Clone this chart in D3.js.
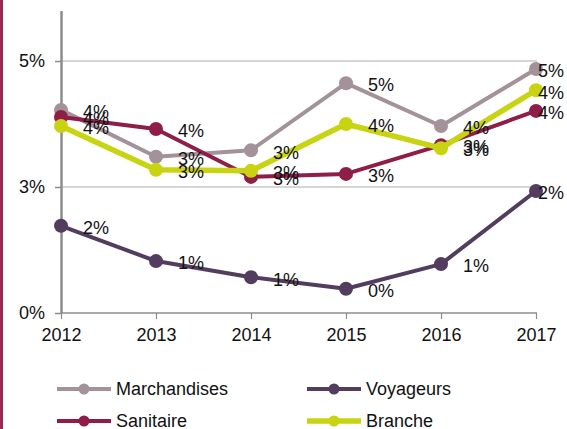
<!DOCTYPE html>
<html>
<head>
<meta charset="utf-8">
<script src="https://cdn.jsdelivr.net/npm/d3@7"></script>
<style>
  body { margin: 0; background: #fff; }
  text { font-family: "Liberation Sans", Arial, sans-serif; }
</style>
</head>
<body>
<div id="chart"></div>
<script>
// data
var years = ["2012", "2013", "2014", "2015", "2016", "2017"];
var marchandises = [0.0403, 0.0310, 0.0323, 0.0456, 0.0371, 0.0484];
var voyageurs    = [0.0173, 0.0103, 0.0071, 0.0048, 0.0097, 0.0242];
var sanitaire    = [0.0389, 0.0365, 0.0270, 0.0276, 0.0333, 0.0401];
var branche      = [0.0371, 0.0284, 0.0282, 0.0375, 0.0327, 0.0442];
var yTicks = [0, 0.025, 0.05];
var yTickLabels = ["0%", "3%", "5%"];

var series = [
  {name: "Marchandises", values: marchandises, color: "#a3929a", w: 4},
  {name: "Voyageurs", values: voyageurs, color: "#533d5e", w: 4},
  {name: "Sanitaire", values: sanitaire, color: "#8e1d47", w: 4},
  {name: "Branche", values: branche, color: "#c8d312", w: 5.5}
];

var W = 567, H = 429;
var svg = d3.select("#chart").append("svg").attr("width", W).attr("height", H);

// crimson page border on the left
svg.append("rect").attr("x", 0).attr("y", 0).attr("width", 3).attr("height", H).attr("fill", "#9b2a50");

var x = d3.scalePoint().domain(years).range([61, 536]);
var y = d3.scaleLinear().domain([0, 0.06]).range([313, 10.6]);

// gridlines
svg.append("g").selectAll("line")
  .data(yTicks.slice(1))
  .enter().append("line")
    .attr("x1", 61).attr("x2", 537)
    .attr("y1", function(d) { return y(d); })
    .attr("y2", function(d) { return y(d); })
    .attr("stroke", "#c8c8c8").attr("stroke-width", 1.5);

// x axis
var xAxis = svg.append("g")
  .attr("transform", "translate(0," + y(0) + ")")
  .call(d3.axisBottom(x).tickSize(6).tickPadding(9).tickSizeOuter(0));
xAxis.select(".domain").attr("stroke", "#8c8c8c").attr("stroke-width", 1.5)
  .attr("d", "M61,0H537");
xAxis.selectAll(".tick line").attr("stroke", "#8c8c8c").attr("stroke-width", 1.2);
xAxis.selectAll(".tick text").attr("font-size", 18).attr("fill", "#111")
  .attr("font-family", "Liberation Sans, Arial, sans-serif");

// y axis
var yAxis = svg.append("g")
  .attr("transform", "translate(61,0)")
  .call(d3.axisLeft(y).tickValues(yTicks)
    .tickFormat(function(d, i) { return yTickLabels[i]; })
    .tickSize(6).tickPadding(10).tickSizeOuter(0));
yAxis.select(".domain").attr("stroke", "#8c8c8c").attr("stroke-width", 2.5);
yAxis.selectAll(".tick line").attr("stroke", "#8c8c8c").attr("stroke-width", 1.5);
yAxis.selectAll(".tick text").attr("font-size", 18).attr("fill", "#111")
  .attr("font-family", "Liberation Sans, Arial, sans-serif");

var line = d3.line()
  .x(function(d, i) { return x(years[i]); })
  .y(function(d) { return y(d); });

var fmt = d3.format(".0%");

series.forEach(function(s) {
  var g = svg.append("g");
  g.append("path")
    .attr("d", line(s.values))
    .attr("fill", "none")
    .attr("stroke", s.color)
    .attr("stroke-width", s.w)
    .attr("stroke-linejoin", "round");
  g.selectAll("circle")
    .data(s.values)
    .enter().append("circle")
      .attr("cx", function(d, i) { return x(years[i]); })
      .attr("cy", function(d) { return y(d); })
      .attr("r", 7)
      .attr("fill", s.color);
});

// data labels, drawn after the lines
series.forEach(function(s) {
  svg.append("g").selectAll("text")
    .data(s.values)
    .enter().append("text")
      .attr("x", function(d, i) { return Math.min(x(years[i]) + 22, 538); })
      .attr("y", function(d) { return y(d) + 2; })
      .attr("dy", "0.35em")
      .attr("font-size", 18)
      .attr("fill", "#111")
      .text(function(d) { return fmt(d); });
});

// legend
var legPos = [[57, 389], [307, 389], [57, 421], [307, 421]];
var legend = svg.append("g").selectAll("g")
  .data(series)
  .enter().append("g")
    .attr("transform", function(d, i) { return "translate(" + legPos[i][0] + "," + legPos[i][1] + ")"; });
legend.append("line")
  .attr("x1", 0).attr("x2", 54).attr("y1", 0).attr("y2", 0)
  .attr("stroke", function(d) { return d.color; })
  .attr("stroke-width", function(d) { return d.w; });
legend.append("circle")
  .attr("cx", 27).attr("cy", 0).attr("r", 5.5)
  .attr("fill", function(d) { return d.color; });
legend.append("text")
  .attr("x", 59).attr("y", 0).attr("dy", "0.35em")
  .attr("font-size", 18).attr("fill", "#111")
  .text(function(d) { return d.name; });
</script>
</body>
</html>
